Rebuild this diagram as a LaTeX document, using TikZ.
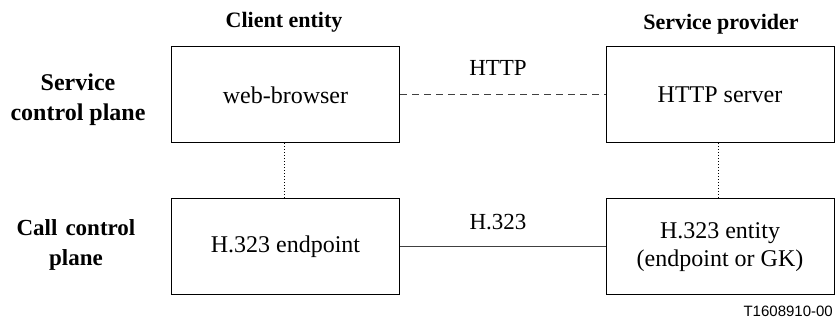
\documentclass[tikz,border=0pt]{standalone}
\usepackage{fontspec}
\setmainfont{Liberation Serif}
\newfontfamily\arialfont{Liberation Sans}
\begin{document}
\begin{tikzpicture}[x=1pt,y=-1pt,
  box/.style={draw=black,line width=1pt,minimum width=228pt,minimum height=96pt,inner sep=0pt,font=\fontsize{24}{28}\selectfont,align=center},
  head/.style={font=\fontsize{22}{29}\selectfont\bfseries,inner sep=0pt},
  rowlbl/.style={font=\fontsize{24}{30}\selectfont\bfseries,inner sep=0pt,align=center},
  lbl/.style={font=\fontsize{23}{28}\selectfont,inner sep=0pt},
  conn/.style={line width=1pt,draw=black!75}]
\useasboundingbox (0,0) rectangle (836,320);
\node[box] (wb) at (285.5,95) {web-browser};
\node[box] (hs) at (720,95) {HTTP server};
\node[box] (ep) at (285.5,247) {H.323 endpoint};
\node[box] (ent) at (720,247) {H.323 entity\\(endpoint or GK)};
\node[head] (ce) at (284,22) {Client entity};
\node[head] (sp) at (721,24) {Service provider};
\node[rowlbl] (scp) at (78,100) {Service\\control plane};
\node[rowlbl,font=\fontsize{23}{30}\selectfont\bfseries] (ccp) at (76,245) {Call\hskip 8pt control\\plane};
\node[lbl] (http) at (498,68) {HTTP};
\node[lbl] (h323) at (498,222) {H.323};
\node[font=\arialfont\fontsize{15}{18}\selectfont,inner sep=0pt,anchor=east] (tag) at (833,311) {T1608910-00};
\draw[conn,dashed,dash pattern=on 7pt off 5pt] (wb.east) -- (hs.west);
\draw[conn] (ep.east) -- (ent.west);
\draw[line width=1pt,dotted] (wb.south -| ce) -- (ep.north -| ce);
\draw[line width=1pt,dotted] (718,143) coordinate (a) -- (718,199) coordinate (b);
\end{tikzpicture}
\end{document}
